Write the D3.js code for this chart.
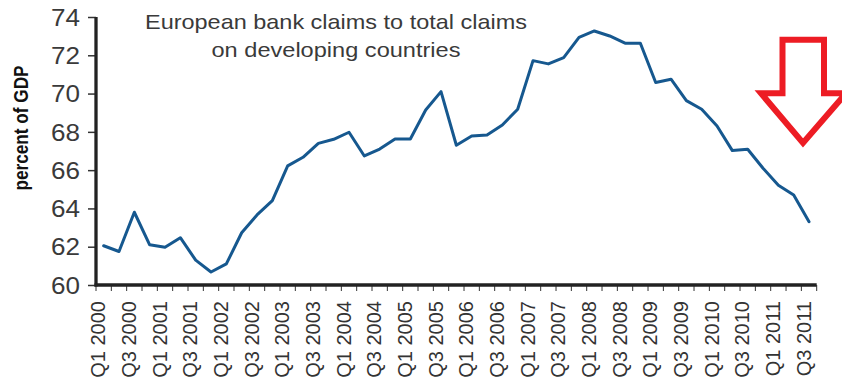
<!DOCTYPE html>
<html>
<head>
<meta charset="utf-8">
<script src="https://cdn.jsdelivr.net/npm/d3@7"></script>
<style>
  html, body { margin: 0; padding: 0; background: #fff; }
  svg { display: block; }
</style>
</head>
<body>
<svg id="chart" width="842" height="385"></svg>
<script>
// ---- data ----
const quarters = [];
for (let yr = 2000; yr <= 2011; yr++) {
  for (let q = 1; q <= 4; q++) {
    if (yr === 2011 && q > 3) break;
    quarters.push("Q" + q + " " + yr);
  }
}
const values = [62.05, 61.75, 63.8, 62.1, 61.97, 62.47, 61.3, 60.68, 61.1, 62.73,
  63.66, 64.41, 66.22, 66.67, 67.4, 67.61, 67.98, 66.74, 67.1, 67.63,
  67.63, 69.14, 70.1, 67.3, 67.78, 67.84, 68.36, 69.18, 71.72, 71.55,
  71.88, 72.94, 73.27, 73.01, 72.63, 72.63, 70.58, 70.75, 69.63, 69.18,
  68.31, 67.02, 67.09, 66.1, 65.21, 64.7, 63.31];
const yTicks = [60, 62, 64, 66, 68, 70, 72, 74];
const xTickLabels = quarters.filter((d, i) => i % 2 === 0);
const titleLines = ["European bank claims to total claims", "on developing countries"];
const yAxisTitle = "percent of GDP";

// ---- layout ----
const svg = d3.select("#chart");
const mLeft = 96, mRight = 816.7, mTop = 17, mBottom = 285;

const x = d3.scaleBand().domain(quarters).range([mLeft, mRight]).paddingInner(0).paddingOuter(0);
const y = d3.scaleLinear().domain([60, 74]).range([mBottom, mTop]);

// line
const line = d3.line()
  .x((d, i) => x(quarters[i]) + x.bandwidth() / 2)
  .y(d => y(d));

svg.append("path")
  .datum(values)
  .attr("d", line)
  .attr("fill", "none")
  .attr("stroke", "#16588f")
  .attr("stroke-width", 3)
  .attr("stroke-linejoin", "round")
  .attr("stroke-linecap", "round");

// y axis
const yAxis = d3.axisLeft(y).tickValues(yTicks).tickSize(8).tickPadding(8).tickFormat(d3.format("d"));
const gy = svg.append("g").attr("transform", `translate(${mLeft},0)`).call(yAxis);
gy.select(".domain").remove();
gy.selectAll(".tick line").attr("stroke", "#333").attr("stroke-width", 1.5);
gy.selectAll(".tick text")
  .attr("font-family", "'Liberation Sans', Arial, sans-serif")
  .attr("font-size", 23)
  .attr("textLength", 29)
  .attr("lengthAdjust", "spacingAndGlyphs")
  .attr("fill", "#3a3a3a")
  .attr("dy", "0.36em");

// x axis ticks at band edges
const edges = quarters.map(q => x(q)).concat([mRight]);
svg.append("g").selectAll("line").data(edges).join("line")
  .attr("x1", d => d).attr("x2", d => d)
  .attr("y1", mBottom).attr("y2", mBottom + 6)
  .attr("stroke", "#333").attr("stroke-width", 1);

// x labels
svg.append("g").selectAll("text").data(xTickLabels).join("text")
  .attr("transform", d => `translate(${x(d) + 2},${mBottom + 16}) rotate(-90)`)
  .attr("text-anchor", "end")
  .attr("dy", "0.36em")
  .attr("font-family", "'Liberation Sans', Arial, sans-serif")
  .attr("font-size", 20)
  .attr("fill", "#333")
  .text(d => d);

// axis lines
svg.append("line").attr("x1", mLeft).attr("x2", mLeft).attr("y1", mTop).attr("y2", mBottom + 1.5)
  .attr("stroke", "#222").attr("stroke-width", 3.3);
svg.append("line").attr("x1", mLeft - 1.5).attr("x2", mRight).attr("y1", mBottom).attr("y2", mBottom)
  .attr("stroke", "#222").attr("stroke-width", 3.3);

// y axis title
svg.append("text")
  .attr("transform", "translate(28,128) rotate(-90)")
  .attr("text-anchor", "middle")
  .attr("font-family", "'Liberation Sans Narrow', 'Arial Narrow', 'Liberation Sans', Arial, sans-serif")
  .attr("font-weight", "bold")
  .attr("font-size", 21)
  .attr("textLength", 125)
  .attr("lengthAdjust", "spacingAndGlyphs")
  .attr("fill", "#111")
  .text(yAxisTitle);

// title
const titleWidths = [382, 249];
svg.append("g").selectAll("text").data(titleLines).join("text")
  .attr("x", 336)
  .attr("y", (d, i) => 29 + i * 28)
  .attr("text-anchor", "middle")
  .attr("font-family", "'Liberation Sans', Arial, sans-serif")
  .attr("font-size", 21)
  .attr("textLength", (d, i) => titleWidths[i])
  .attr("lengthAdjust", "spacingAndGlyphs")
  .attr("fill", "#3a3a3a")
  .text(d => d);

// red arrow annotation
const arrow = [[782.5, 39.7], [824, 39.7], [824, 93.3], [846, 93.3], [803, 143], [761, 93.3], [782.5, 93.3]];
svg.append("path")
  .attr("d", d3.line()(arrow) + "Z")
  .attr("fill", "#fff")
  .attr("stroke", "#ed1c24")
  .attr("stroke-width", 6)
  .attr("stroke-linejoin", "miter")
  .attr("stroke-miterlimit", 10);
</script>
</body>
</html>
